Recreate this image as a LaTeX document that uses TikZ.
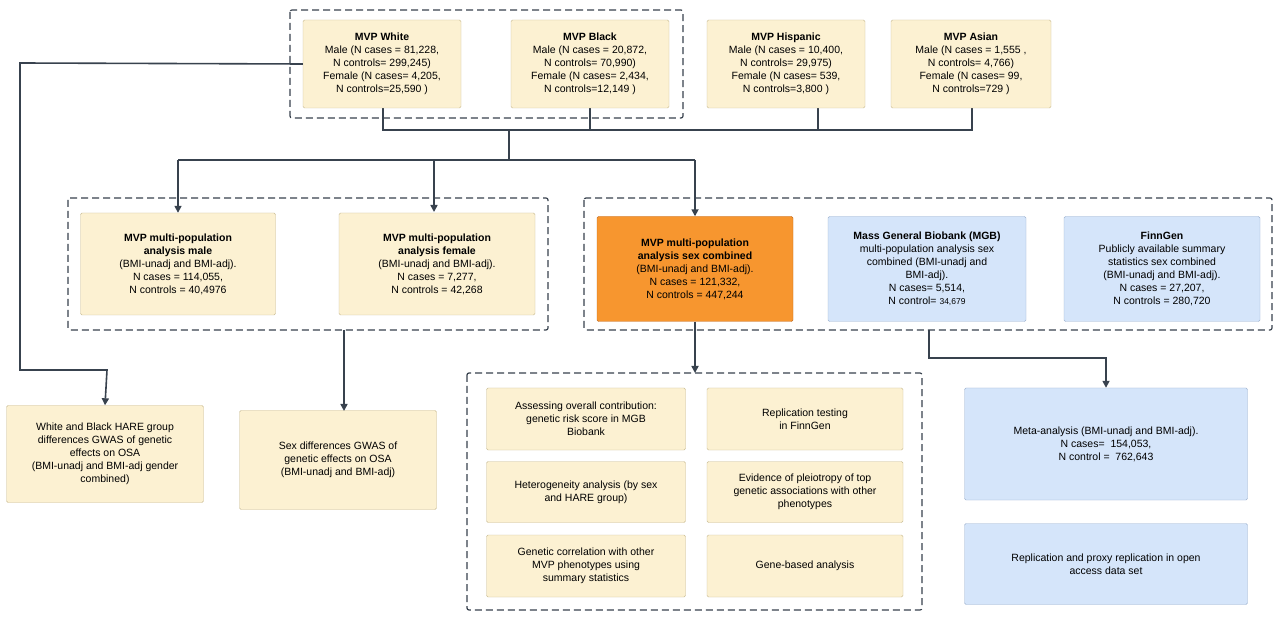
\documentclass[tikz,border=0pt]{standalone}
\usepackage{fontspec}
\setmainfont{Liberation Sans}
\usetikzlibrary{arrows.meta}
\definecolor{cream}{HTML}{FCF1D2}
\definecolor{creamb}{HTML}{C8BB93}
\definecolor{bluef}{HTML}{D5E5FA}
\definecolor{blueb}{HTML}{9DB2CF}
\definecolor{orangef}{HTML}{F7962F}
\definecolor{orangeb}{HTML}{C26A1E}
\definecolor{ln}{HTML}{38424E}
\begin{document}
\begin{tikzpicture}[x=1pt,y=-1pt,
  box/.style={draw=creamb,fill=cream,rounded corners=1.5pt,align=center,inner sep=2pt,font=\fontsize{10.5}{13}\selectfont},
  cb/.style={box},
  bb/.style={box,draw=blueb,fill=bluef},
  ob/.style={box,draw=orangeb,fill=orangef},
  grp/.style={draw=ln,dashed,dash pattern=on 7pt off 4pt,line width=1.2pt,rounded corners=2pt},
  con/.style={draw=ln,line width=1.6pt},
  arr/.style={con,-{Triangle[length=7pt,width=7pt]}}]
\useasboundingbox (0,0) rectangle (1280,617);
\fill[white] (0,0) rectangle (1280,617);
% groups
\draw[grp] (290,10) rectangle (683,118);
\draw[grp] (68,198) rectangle (548,330);
\draw[grp] (584,198) rectangle (1272,330);
\draw[grp] (467,373) rectangle (922,610);
% connectors behind boxes
\coordinate (bus) at (509,130);
\draw[con] (383,108) -- (383,130) -- (972,130) -- (972,108);
\draw[con] (590,108) -- (590,130);
\draw[con] (818,108) -- (818,130);
\draw[con] (509,130) -- (509,160);
\draw[con] (178,160) -- (695,160);
% top boxes
\node[cb,minimum width=158,minimum height=88] (w) at (382,64) {\textbf{MVP White}\\Male (N cases = 81,228,\\N controls= 299,245)\\Female (N cases= 4,205,\\N controls=25,590 )};
\node[cb,minimum width=158,minimum height=88] (b) at (590,64) {\textbf{MVP Black}\\Male (N cases = 20,872,\\N controls= 70,990)\\Female (N cases= 2,434,\\N controls=12,149 )};
\node[cb,minimum width=158,minimum height=88] (h) at (786,64) {\textbf{MVP Hispanic}\\Male (N cases = 10,400,\\N controls= 29,975)\\Female (N cases= 539,\\N controls=3,800 )};
\node[cb,minimum width=160,minimum height=88] (a) at (971,64) {\textbf{MVP Asian}\\Male (N cases = 1,555 ,\\N controls= 4,766)\\Female (N cases= 99,\\N controls=729 )};
% middle boxes
\node[cb,minimum width=195,minimum height=102] (m) at (178,264) {\textbf{MVP multi-population}\\\textbf{analysis male}\\(BMI-unadj and BMI-adj).\\N cases = 114,055,\\N controls = 40,4976};
\node[cb,minimum width=196,minimum height=102] (f) at (437,264) {\textbf{MVP multi-population}\\\textbf{analysis female}\\(BMI-unadj and BMI-adj).\\N cases = 7,277,\\N controls = 42,268};
\node[ob,minimum width=196,minimum height=105] (c) at (695,269) {\textbf{MVP multi-population}\\\textbf{analysis sex combined}\\(BMI-unadj and BMI-adj).\\N cases = 121,332,\\N controls = 447,244};
\node[bb,minimum width=198,minimum height=105] (g) at (927,269) {\textbf{Mass General Biobank (MGB)}\\multi-population analysis sex\\combined (BMI-unadj and\\BMI-adj).\\N cases= 5,514,\\N control= {\fontsize{8.5}{10}\selectfont 34,679}};
\node[bb,minimum width=196,minimum height=105] (fg) at (1162,269) {\textbf{FinnGen}\\Publicly available summary\\statistics sex combined\\(BMI-unadj and BMI-adj).\\N cases = 27,207,\\N controls = 280,720};
% arrows from bus
\draw[arr] (178,160) -- (m.north);
\draw[arr] (434,160) -- (434,212);
\draw[arr] (695,160) -- (c.north);
% bottom-left boxes
\node[cb,minimum width=197,minimum height=97] (wb) at (105,454) {White and Black HARE group\\differences GWAS of genetic\\effects on OSA\\(BMI-unadj and BMI-adj gender\\combined)};
\node[cb,minimum width=197,minimum height=99] (sd) at (338,460) {Sex differences GWAS of\\genetic effects on OSA\\(BMI-unadj and BMI-adj)};
\coordinate (wl) at (20,63);
\draw[arr] (w.west) -- (20,63) -- (20,370) -- (107,370) -- (wb.north);
\coordinate (fb) at (344,330);
\draw[arr] (fb) -- (344,411);
% analyses
\coordinate (cb) at (695,322);
\draw[arr] (c.south) -- (695,373);
\node[cb,minimum width=199,minimum height=62] (r1) at (586,419) {Assessing overall contribution:\\genetic risk score in MGB\\Biobank};
\node[cb,minimum width=196,minimum height=62] (r2) at (805,419) {Replication testing\\in FinnGen};
\node[cb,minimum width=199,minimum height=61] (r3) at (586,492) {Heterogeneity analysis (by sex\\and HARE group)};
\node[cb,minimum width=196,minimum height=61] (r4) at (805,492) {Evidence of pleiotropy of top\\genetic associations with other\\phenotypes};
\node[cb,minimum width=199,minimum height=62] (r5) at (586,566) {Genetic correlation with other\\MVP phenotypes using\\summary statistics};
\node[cb,minimum width=196,minimum height=62] (r6) at (805,566) {Gene-based analysis};
% meta
\node[bb,minimum width=283,minimum height=112] (ma) at (1106,444) {Meta-analysis (BMI-unadj and BMI-adj).\\N cases=\ \ 154,053,\\N control =\ \ 762,643};
\node[bb,minimum width=283,minimum height=81] (rp) at (1106,564) {Replication and proxy replication in open\\access data set};
\coordinate (rb) at (929,330);
\draw[arr] (rb) -- (929,358) -- (1106,358) -- (ma.north);
\end{tikzpicture}
\end{document}
